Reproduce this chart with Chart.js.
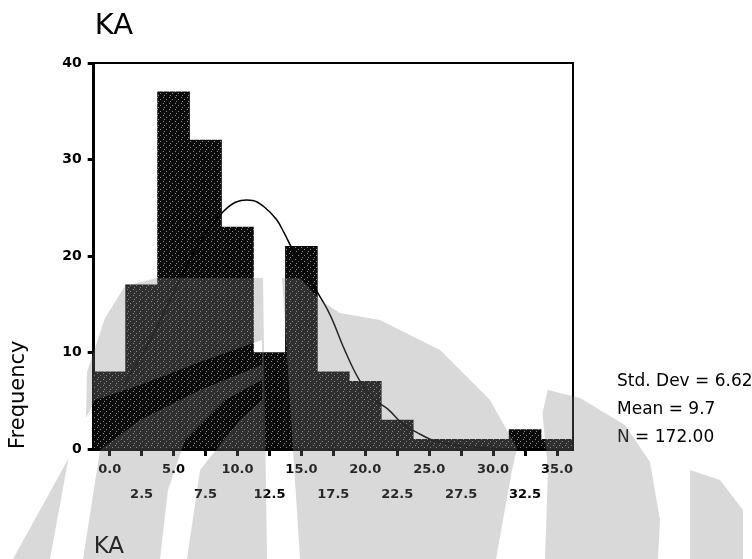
<!DOCTYPE html>
<html>
<head>
<meta charset="utf-8">
<script src="https://cdn.jsdelivr.net/npm/chart.js@4"></script>
<style>
  body { margin: 0; background: #fff; }
  #wrap { width: 752px; height: 559px; }
</style>
</head>
<body>
<div id="wrap"><canvas id="hist" width="752" height="559"></canvas></div>
<script>
  // bin midpoints (tick labels) and counts
  const binLabels = ["0.0", "2.5", "5.0", "7.5", "10.0", "12.5", "15.0", "17.5", "20.0", "22.5", "25.0", "27.5", "30.0", "32.5", "35.0"];
  const counts = [8, 17, 37, 32, 23, 10, 21, 8, 7, 3, 1, 1, 1, 2, 1];

  // normal curve
  const curveX = [-1.25, -0.6, 1.2, 2.5, 3.75, 5, 6.25, 7.5, 8.8, 10.3, 11.3, 12.4, 13.1, 13.8, 16.2, 17.25, 18.5, 19.8, 21.1, 22.4, 23.7, 25.0, 26.2, 27.5, 30, 32.5, 36.25];
  const curveY = [6.6, 7.9, 11.4, 14.5, 17.5, 20.3, 22.6, 24.4, 25.6, 25.75, 25.1, 23.8, 22.4, 20.8, 16.0, 13.8, 10.3, 7.2, 5.2, 4.1, 2.6, 1.7, 1.0, 0.6, 0.2, 0.05, 0];

  const yTicks = [0, 10, 20, 30, 40];
  const stats = ["Std. Dev = 6.62", "Mean = 9.7", "N = 172.00"];

  //stipple fill like the scanned spss bars
  const makePattern = () => {
    const c = document.createElement("canvas");
    c.width = 6; c.height = 6;
    const g = c.getContext("2d");
    g.fillStyle = "#0b0b0b";
    g.fillRect(0, 0, 6, 6);
    g.fillStyle = "#8a8a8a";
    g.fillRect(1, 1, 1, 1);
    g.fillRect(4, 3, 1, 1);
    g.fillRect(2, 5, 1, 1);
    return g.createPattern(c, "repeat");
  };

  // light logo watermark on top of the page
  const drawWatermark = (ctx) => {
    const wm = document.createElement("canvas");
    wm.width = 752; wm.height = 559;
    const w = wm.getContext("2d");
    const poly = (pts) => {
      w.beginPath();
      w.moveTo(pts[0][0], pts[0][1]);
      for (let i = 1; i < pts.length; i++) w.lineTo(pts[i][0], pts[i][1]);
      w.closePath();
      w.fill();
    };
    w.fillStyle = "#000";
    // central body
    poly([[83, 559], [87, 372], [105, 318], [125, 286], [157, 278], [300, 278], [320, 300], [340, 313], [380, 320],
          [440, 350], [490, 400], [518, 450], [522, 500], [512, 559]]);
    // right wing
    poly([[540, 388], [580, 398], [625, 425], [650, 462], [660, 520], [658, 559], [545, 559], [548, 470]]);
    // far right band
    poly([[690, 470], [720, 480], [743, 510], [743, 559], [690, 559]]);
    // left band
    poly([[13, 559], [50, 559], [90, 455], [72, 452]]);
    // gaps
    w.globalCompositeOperation = "destination-out";
    poly([[263, 278], [282, 278], [300, 559], [267, 559]]);
    poly([[50, 559], [83, 559], [100, 450], [140, 420], [200, 390], [262, 365], [262, 340], [200, 362], [140, 385], [95, 400], [70, 450]]);
    poly([[160, 559], [187, 559], [200, 470], [240, 420], [262, 400], [262, 380], [225, 400], [185, 440], [168, 490]]);
    poly([[496, 559], [523, 559], [530, 470], [548, 388], [532, 384], [512, 470]]);
    const t = document.createElement("canvas");
    t.width = 752; t.height = 559;
    const tg = t.getContext("2d");
    tg.drawImage(wm, 0, 0);
    tg.globalCompositeOperation = "source-in";
    tg.fillStyle = "#828282";
    tg.fillRect(0, 0, 752, 559);
    ctx.save();
    ctx.globalAlpha = 0.3;
    ctx.drawImage(t, 0, 0);
    ctx.restore();
  };

  const extras = {
    id: "extras",
    afterDraw(chart) {
      const { ctx, chartArea: a } = chart;
      ctx.save();
      // frame top and right
      ctx.strokeStyle = "#000";
      ctx.lineWidth = 2;
      ctx.beginPath();
      ctx.moveTo(a.left, a.top);
      ctx.lineTo(a.right, a.top);
      ctx.lineTo(a.right, a.bottom);
      ctx.stroke();
      ctx.fillStyle = "#000";
      ctx.textBaseline = "middle";
      ctx.textAlign = "left";
      ctx.font = "29px 'DejaVu Sans'";
      ctx.fillText("KA", a.left + 1, 26);
      ctx.font = "17px 'DejaVu Sans'";
      stats.forEach((s, i) => {
        ctx.fillText(s, a.right + 44, a.bottom - 67 + i * 28);
      });
      ctx.restore();
      drawWatermark(ctx);
    },
  };

  let chart;
  window.addEventListener("load", () => {
    const ctx = document.getElementById("hist");
    chart = new Chart(ctx, {
      type: "bar",
      data: {
        labels: binLabels,
        datasets: [
          {
            type: "bar",
            data: counts,
            xAxisID: "x",
            backgroundColor: makePattern(),
            borderWidth: 0,
            grouped: false,
            barPercentage: 1,
            categoryPercentage: 1,
            order: 1,
          },
          {
            type: "line",
            data: curveX.map((x, i) => ({ x, y: curveY[i] })),
            xAxisID: "xc",
            borderColor: "#000",
            borderWidth: 1.5,
            pointRadius: 0,
            tension: 0.4,
            order: 0,
          },
        ],
      },
      options: {
        responsive: false,
        animation: false,
        layout: { padding: { top: 63, right: 179, bottom: 0, left: 0 } },
        plugins: { legend: { display: false }, tooltip: { enabled: false } },
        scales: {
          x: {
            type: "category",
            offset: true,
            border: { color: "#000", width: 3 },
            grid: { offset: false, drawOnChartArea: false, tickLength: 7, tickWidth: 3, tickColor: "#000" },
            ticks: {
              autoSkip: false,
              maxRotation: 0,
              padding: 1,
              color: "#000",
              font: { family: "'DejaVu Sans'", size: 13, weight: "bold", lineHeight: 1.923 },
              callback: function (v, i) {
                const t = this.getLabelForValue(v);
                return i % 2 === 0 ? [t, ""] : ["", t];
              },
            },
            title: {
              display: true,
              text: "KA",
              align: "start",
              color: "#000",
              font: { family: "'DejaVu Sans'", size: 23, lineHeight: 1 },
              padding: { top: 28, bottom: 0 },
            },
          },
          xc: { type: "linear", display: false, min: -1.25, max: 36.25 },
          y: {
            min: 0,
            max: 40,
            afterBuildTicks: (s) => { s.ticks = yTicks.map((v) => ({ value: v })); },
            border: { color: "#000", width: 3 },
            grid: { drawOnChartArea: false, tickLength: 6, tickWidth: 3, tickColor: "#000" },
            ticks: {
              padding: 6,
              color: "#000",
              font: { family: "'DejaVu Sans'", size: 14, weight: "bold" },
            },
            title: {
              display: true,
              text: "Frequency",
              align: "start",
              color: "#000",
              font: { family: "'DejaVu Sans'", size: 21 },
              padding: { top: 6, bottom: 25 },
            },
          },
        },
      },
      plugins: [extras],
    });
  });
</script>
</body>
</html>
